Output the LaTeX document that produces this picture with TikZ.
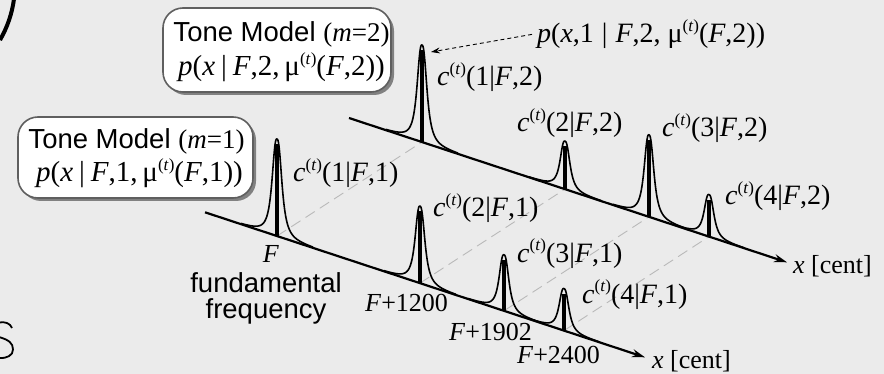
\documentclass[tikz,border=0pt]{standalone}
\usepackage{fontspec}
\setmainfont{Liberation Serif}
\setsansfont{Liberation Sans}
\usetikzlibrary{arrows.meta,shadows}
\definecolor{bg}{RGB}{235,235,235}
\definecolor{boxline}{RGB}{95,95,95}
\newcommand\supt{\raisebox{11.5pt}{\fontsize{17}{17}\selectfont(\textit{t})}}
\newcommand\cl[2]{\textit{c}\supt(#1|\textit{F},#2)}
\newcommand\pk[4]{%
  \draw[pkcurve] plot[domain=-36:36, samples=145, smooth] ({#1+\x},{#2+0.3295*\x-#3/(1+(abs(\x)/5.5)^2.6)});
  \draw[pkstick] (#1,#2) -- (#1,#2-#3+5);
  \coordinate (#4) at (#1,#2-#3);
}
\begin{document}
\begin{tikzpicture}[x=1pt,y=-1pt,
  every node/.style={font=\fontsize{28}{32}\selectfont, inner sep=0pt},
  axisline/.style={line width=2.2pt, -{Stealth[length=13pt,width=8pt]}},
  pkcurve/.style={line width=1.6pt, line join=round},
  pkstick/.style={line width=4pt},
  guide/.style={draw=gray!55, line width=0.9pt, dash pattern=on 11pt off 6pt},
  lbl/.style={anchor=base west},
  clbl/.style={anchor=base},
  small/.style={font=\fontsize{26}{30}\selectfont},
  boxtxt/.style={font=\fontsize{29}{32}\selectfont},
  sans/.style={font=\fontsize{27.5}{32}\selectfont\sffamily},
  modelbox/.style={draw=boxline, line width=1.6pt, fill=white, rounded corners=20pt,
     drop shadow={shadow xshift=3pt, shadow yshift=-3pt, fill=black, opacity=0.45}},
  dasharrow/.style={line width=0.9pt, dash pattern=on 4pt off 3pt, -{Stealth[length=9pt,width=6pt]}}
]
\useasboundingbox (0,0) rectangle (884,374);
\fill[bg] (0,0) rectangle (884,374);

% edge fragments
\draw[line width=4pt] (0,40) .. controls (7,28) and (12,14) .. (14,-1);
\draw[line width=1.8pt] (12,328) .. controls (10,323) and (5,321.5) .. (-1,322.5);
\draw[line width=1.8pt] (-1,337) .. controls (9,340) and (13,343) .. (13,349.5) .. controls (13,355.5) and (7,358.5) .. (-1,358);

% axis coordinates
\coordinate (a1s) at (205,212.3);
\coordinate (a1e) at (645,357.3);
\coordinate (a2s) at (349,118);
\coordinate (a2e) at (787,262.3);

% base points
\coordinate (b11) at (277,236);
\coordinate (b12) at (420,283.1);
\coordinate (b13) at (504,310.8);
\coordinate (b14) at (564,330.6);
\coordinate (b21) at (422,142);
\coordinate (b22) at (565,189.1);
\coordinate (b23) at (649,216.8);
\coordinate (b24) at (709,236.6);

% guides
\draw[guide] (b11) -- (b21);
\draw[guide] (b12) -- (b22);
\draw[guide] (b13) -- (b23);
\draw[guide] (b14) -- (b24);

% axes
\draw[axisline] (a2s) -- (a2e);
\draw[axisline] (a1s) -- (a1e);

% peaks m=2
\pk{422}{142}{97}{t21}
\pk{565}{189.1}{48}{t22}
\pk{649}{216.8}{82}{t23}
\pk{709}{236.6}{42}{t24}
% peaks m=1
\pk{277}{236}{97}{t11}
\pk{420}{283.1}{77}{t12}
\pk{504}{310.8}{56}{t13}
\pk{564}{330.6}{42}{t14}

% boxes
\node[modelbox, minimum width=228pt, minimum height=84pt] (box2) at (277,50) {};
\node[modelbox, minimum width=235pt, minimum height=81pt] (box1) at (135.5,157.5) {};
\node[clbl, sans] (box2a) at (281.5,42) {Tone Model {\rmfamily\fontsize{27}{30}\selectfont(\textit{m}=2)}};
\node[clbl, boxtxt] (box2b) at (281.5,76) {\textit{p}(\textit{x}\hspace{6pt}|\hspace{6pt}\textit{F},2,\,μ\supt(\textit{F},2))};
\node[clbl, sans] (box1a) at (136.5,149) {Tone Model {\rmfamily\fontsize{27}{30}\selectfont(\textit{m}=1)}};
\node[clbl, boxtxt] (box1b) at (139.5,182) {\textit{p}(\textit{x}\hspace{6pt}|\hspace{6pt}\textit{F},1,\,μ\supt(\textit{F},1))};

% labels
\node[lbl] (ptop) at (537,43) {\textit{p}(\textit{x},1\hspace{8pt}|\hspace{8pt}\textit{F},2, μ\supt(\textit{F},2))};
\coordinate (tipA) at (431,52);
\draw[dasharrow] ([xshift=-5pt]ptop.west) -- (tipA);

\node[lbl] (c12) at (437,86) {\cl{1}{2}};
\node[lbl] (c22) at (517,132) {\cl{2}{2}};
\node[lbl] (c32) at (662,137) {\cl{3}{2}};
\node[lbl] (c42) at (725,205) {\cl{4}{2}};
\node[lbl, small] (xc2) at (793,273) {\textit{x} [cent]};

\node[lbl] (c11) at (293,182) {\cl{1}{1}};
\node[lbl] (c21) at (433,217) {\cl{2}{1}};
\node[lbl] (c31) at (517,262) {\cl{3}{1}};
\node[lbl] (c41) at (582,303) {\cl{4}{1}};
\node[lbl, small] (xc1) at (652,368) {\textit{x} [cent]};

\node[clbl, small] (fF) at (271,263) {\textit{F}};
\node[clbl, sans] (fund) at (266,292) {fundamental};
\node[clbl, sans] (freq) at (266,318) {frequency};
\node[lbl, small] (f1200) at (365,312) {\textit{F}+1200};
\node[lbl, small] (f1902) at (449,340) {\textit{F}+1902};
\node[lbl, small] (f2400) at (517,363) {\textit{F}+2400};
\end{tikzpicture}
\end{document}
